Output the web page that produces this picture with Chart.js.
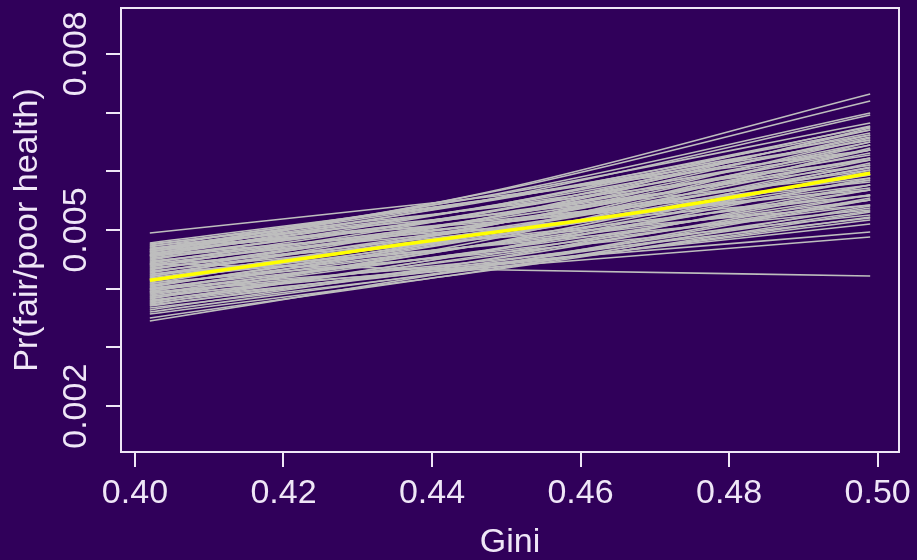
<!DOCTYPE html>
<html>
<head>
<meta charset="utf-8">
<script src="https://cdn.jsdelivr.net/npm/chart.js@4.4.1/dist/chart.umd.min.js"></script>
<style>
  html, body { margin: 0; padding: 0; background: #30005a; }
  canvas { display: block; }
</style>
</head>
<body>
<canvas id="c" width="917" height="560"></canvas>
<script>
// ---- data ----
const simGini = [0.402, 0.45, 0.499];
const simStart = [
  0.004949, 0.004574, 0.004625, 0.004660, 0.004557, 0.003451, 0.003502, 0.003570, 0.003672, 0.003723,
  0.003944, 0.003996, 0.004421, 0.003876, 0.003808,
  0.004779, 0.004762, 0.004745, 0.004728, 0.004711, 0.004694, 0.004677, 0.004660, 0.004643, 0.004625,
  0.004608, 0.004591, 0.004574, 0.004557, 0.004540, 0.004523, 0.004506, 0.004489, 0.004472, 0.004455,
  0.004438, 0.004421, 0.004404, 0.004387, 0.004370, 0.004353, 0.004336, 0.004319, 0.004302, 0.004285,
  0.004268, 0.004251, 0.004234, 0.004217, 0.004200, 0.004183, 0.004166, 0.004149, 0.004132, 0.004115,
  0.004098, 0.004081, 0.004064, 0.004047, 0.004029, 0.004012, 0.003996, 0.003978, 0.003961, 0.003944,
  0.003927, 0.003910, 0.003893, 0.003859, 0.003842, 0.003825, 0.003791, 0.003774, 0.003757, 0.003740,
  0.003706, 0.003638, 0.003604
];
const simMid = [
  0.005596, 0.005715, 0.005698, 0.005647, 0.005579, 0.004438, 0.004370, 0.004353, 0.004387, 0.004455,
  0.004387, 0.004455, 0.004319, 0.004438, 0.004421,
  0.005562, 0.005409, 0.005562, 0.005290, 0.005630, 0.005153, 0.005562, 0.005426, 0.005188, 0.005545,
  0.005290, 0.005443, 0.005051, 0.005460, 0.005307, 0.005136, 0.005358, 0.005460, 0.005034, 0.005222,
  0.005375, 0.005136, 0.004881, 0.005256, 0.005358, 0.005000, 0.005170, 0.005256, 0.004898, 0.005068,
  0.005273, 0.004762, 0.005136, 0.004949, 0.005273, 0.005034, 0.004779, 0.005136, 0.004932, 0.005034,
  0.004625, 0.005136, 0.004796, 0.004932, 0.005017, 0.004660, 0.004813, 0.004932, 0.004694, 0.005017,
  0.004506, 0.004813, 0.004711, 0.004830, 0.004591, 0.004898, 0.004625, 0.004694, 0.004489, 0.004711,
  0.004540, 0.004557, 0.004438
];
const simEnd = [
  0.006362, 0.007316, 0.007196, 0.006992, 0.006958, 0.005545, 0.005409, 0.005307, 0.005222, 0.005324,
  0.004881, 0.004966, 0.004217, 0.005102, 0.005170,
  0.006532, 0.006192, 0.006618, 0.005937, 0.006822, 0.005681, 0.006703, 0.006362, 0.005817, 0.006754,
  0.006107, 0.006532, 0.005579, 0.006652, 0.006277, 0.005886, 0.006447, 0.006771, 0.005715, 0.006192,
  0.006584, 0.006022, 0.005426, 0.006362, 0.006703, 0.005766, 0.006226, 0.006498, 0.005596, 0.006056,
  0.006618, 0.005341, 0.006311, 0.005851, 0.006737, 0.006107, 0.005511, 0.006447, 0.005937, 0.006226,
  0.005256, 0.006567, 0.005681, 0.006073, 0.006362, 0.005426, 0.005851, 0.006192, 0.005596, 0.006498,
  0.005205, 0.005988, 0.005766, 0.006141, 0.005511, 0.006396, 0.005681, 0.005886, 0.005375, 0.006022,
  0.005596, 0.005766, 0.005511
];
const meanGini = [0.402, 0.435, 0.47, 0.499];
const meanValues = [0.004143, 0.004737, 0.005341, 0.005965];
const xTicks = [0.40, 0.42, 0.44, 0.46, 0.48, 0.50];
const yTicks = [0.002, 0.003, 0.004, 0.005, 0.006, 0.007, 0.008];
const yLabelValues = [0.002, 0.005, 0.008];
const yLabelTexts = ['0.002', '0.005', '0.008'];
const xRange = [0.39812, 0.50288];
const yRange = [0.00122, 0.00878];

// ---- style ----
const BG = '#30005a';
const FG = '#efe6f7';
const FONT = "'Liberation Sans', Arial, Helvetica, sans-serif";

const datasets = [];
datasets.push({
  data: meanGini.map((g, i) => ({ x: g, y: meanValues[i] })),
  borderColor: '#ffff00', borderWidth: 3.5, cubicInterpolationMode: 'monotone', pointRadius: 0
});
for (let i = 0; i < simStart.length; i++) {
  const vals = [simStart[i], simMid[i], simEnd[i]];
  datasets.push({
    data: simGini.map((g, k) => ({ x: g, y: vals[k] })),
    borderColor: '#bebebe', borderWidth: 1.6, cubicInterpolationMode: 'monotone', pointRadius: 0
  });
}

const bgPlugin = {
  id: 'bg',
  beforeDraw(chart) {
    const c = chart.ctx;
    c.save(); c.fillStyle = BG; c.fillRect(0, 0, chart.width, chart.height); c.restore();
  }
};
const boxPlugin = {
  id: 'box',
  afterDraw(chart) {
    const a = chart.chartArea, c = chart.ctx;
    c.save(); c.strokeStyle = FG; c.lineWidth = 2;
    c.strokeRect(a.left, a.top, a.right - a.left, a.bottom - a.top);
    c.restore();
  }
};
const yLabelPlugin = {
  id: 'ylabels',
  afterDraw(chart) {
    const ys = chart.scales.y, c = chart.ctx;
    c.save(); c.fillStyle = FG; c.font = '34px ' + FONT;
    c.textAlign = 'center'; c.textBaseline = 'alphabetic';
    yLabelValues.forEach((v, i) => {
      const p = ys.getPixelForValue(v);
      c.save(); c.translate(86, p); c.rotate(-Math.PI / 2);
      c.fillText(yLabelTexts[i], 0, 0); c.restore();
    });
    c.restore();
  }
};

new Chart(document.getElementById('c'), {
  type: 'line',
  data: { datasets },
  options: {
    responsive: false, animation: false, devicePixelRatio: 1,
    layout: { padding: { top: 8, right: 18, left: 0, bottom: 0 } },
    plugins: { legend: { display: false }, tooltip: { enabled: false } },
    scales: {
      x: {
        type: 'linear', min: xRange[0], max: xRange[1],
        afterBuildTicks: s => { s.ticks = xTicks.map(v => ({ value: v })); },
        afterFit: s => { s.height = 108; s.paddingLeft = 0; s.paddingRight = 0; },
        border: { display: false },
        grid: { drawOnChartArea: false, drawTicks: true, tickLength: 15, color: FG, lineWidth: 2 },
        ticks: { color: FG, padding: 10, maxRotation: 0, autoSkip: false,
                 font: { family: FONT, size: 34, lineHeight: 1 },
                 callback: v => Number(v).toFixed(2) },
        title: { display: true, text: 'Gini', color: FG, padding: { top: 0, bottom: 0 },
                 font: { family: FONT, size: 34, lineHeight: 1 } }
      },
      y: {
        type: 'linear', min: yRange[0], max: yRange[1],
        afterBuildTicks: s => { s.ticks = yTicks.map(v => ({ value: v })); },
        afterFit: s => { s.width = 121; s.paddingTop = 0; s.paddingBottom = 0; },
        border: { display: false },
        grid: { drawOnChartArea: false, drawTicks: true, tickLength: 15, color: FG, lineWidth: 2 },
        ticks: { display: false },
        title: { display: true, text: 'Pr(fair/poor health)', color: FG, padding: { top: 11, bottom: 0 },
                 font: { family: FONT, size: 34, lineHeight: 1 } }
      }
    }
  },
  plugins: [bgPlugin, boxPlugin, yLabelPlugin]
});
</script>
</body>
</html>
